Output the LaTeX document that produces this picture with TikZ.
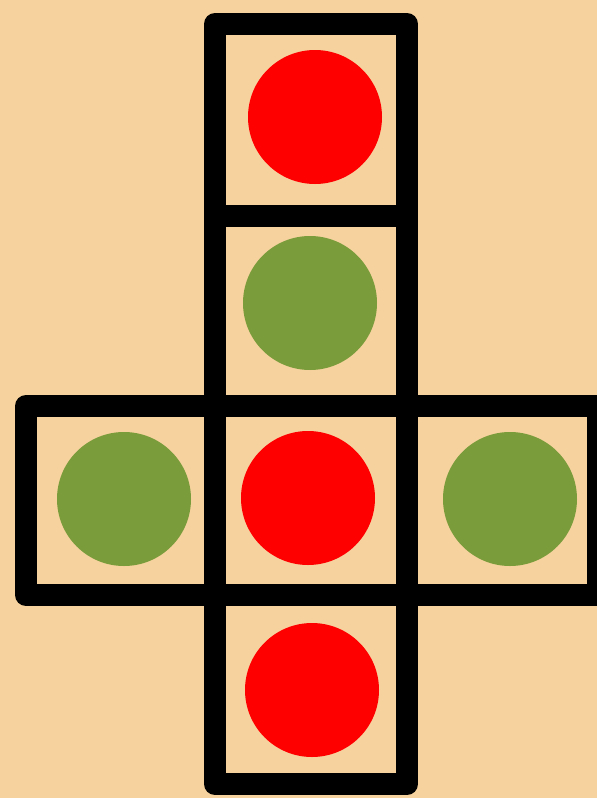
\documentclass[tikz,border=0pt]{standalone}
\usepackage{tikz}
\usetikzlibrary{positioning}
\definecolor{paperTan}{HTML}{F6D29E}
\definecolor{spotRed}{HTML}{FE0000}
\definecolor{spotGreen}{HTML}{7A9C3B}

\begin{document}
\begin{tikzpicture}[x=1pt, y=-1pt,
    frame/.style={line width=22pt, black, line join=round},
    spot/.style={circle, inner sep=0pt, minimum size=134pt},
    redspot/.style={spot, fill=spotRed},
    greenspot/.style={spot, fill=spotGreen}]
        \fill[paperTan] (0,0) rectangle (597,798);
        \useasboundingbox (0,0) rectangle (597,798);
        % faces of the net
        \draw[frame] (215,24) rectangle (407,784);
        \draw[frame] (26,406) rectangle (598,595);
        \draw[frame] (215,216) -- (407,216);
        % spots
        \node[redspot] (top) at (315,117) {};
        \node[greenspot] (upper) at (310,303) {};
        \node[greenspot] (left) at (124,499) {};
        \node[redspot] (middle) at (308,498) {};
        \node[greenspot] (right) at (510,499) {};
        \node[redspot] (bottom) at (312,690) {};
      \end{tikzpicture}
\end{document}
